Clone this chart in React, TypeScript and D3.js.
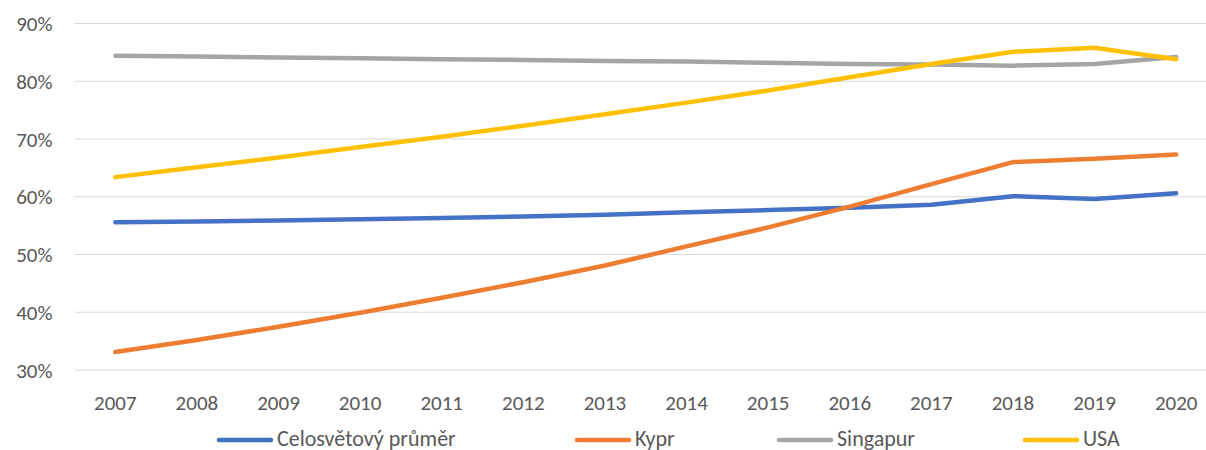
import React from "react";
import * as d3 from "d3";

const years = ["2007","2008","2009","2010","2011","2012","2013","2014","2015","2016","2017","2018","2019","2020"];
const world = [55.6,55.7,55.9,56.1,56.3,56.6,56.9,57.3,57.7,58.1,58.6,60.1,59.6,60.6];
const cyprus = [33.1,35.2,37.5,39.9,42.5,45.2,48.1,51.4,54.7,58.3,62.2,66.0,66.6,67.3];
const singapore = [84.4,84.3,84.1,84.0,83.8,83.7,83.5,83.4,83.2,83.0,82.9,82.7,83.0,84.2];
const usa = [63.4,65.1,66.8,68.6,70.4,72.3,74.3,76.3,78.4,80.7,83.0,85.1,85.8,83.8];
const yTicks = [30,40,50,60,70,80,90];
const seriesNames = ["Celosvětový průměr","Kypr","Singapur","USA"];
const seriesColors = ["#4472C4","#ED7D31","#A5A5A5","#FFC000"];
const seriesData = [world, cyprus, singapore, usa];

export default function App() {
  const W = 1206, H = 450;
  const x = d3.scaleBand<string>().domain(years).range([74.5, 1217]);
  const y = d3.scaleLinear().domain([30, 90]).range([370, 23.5]);
  const line = d3.line<number>()
    .x((_, i) => (x(years[i]) as number) + x.bandwidth() / 2)
    .y((d) => y(d));
  const font = "Calibri, Carlito, Lato, 'Open Sans', sans-serif";
  const legendX = [217, 575, 777, 1023];
  return (
    <svg width={W} height={H} style={{ position: "absolute", left: 0, top: 0 }} fontFamily={font}>
      <rect width={W} height={H} fill="#fff" />
      {yTicks.map((t) => (
        <g key={t}>
          <line x1={75} x2={W} y1={y(t)} y2={y(t)} stroke="#d9d9d9" strokeWidth={1.2} />
          <text x={52.5} y={y(t) + 7.5} textAnchor="end" fontSize={21} fill="#595959">{t}%</text>
        </g>
      ))}
      {years.map((yr) => (
        <text key={yr} x={(x(yr) as number) + x.bandwidth() / 2} y={410} textAnchor="middle" fontSize={21} fill="#595959">{yr}</text>
      ))}
      {seriesData.map((s, i) => (
        <path key={i} d={line(s) as string} fill="none" stroke={seriesColors[i]} strokeWidth={4.5} strokeLinecap="round" strokeLinejoin="round" />
      ))}
      {seriesNames.map((n, i) => (
        <g key={n}>
          <line x1={legendX[i] + 2} x2={legendX[i] + 54} y1={440} y2={440} stroke={seriesColors[i]} strokeWidth={4.5} strokeLinecap="round" />
          <text x={legendX[i] + 60} y={445.5} fontSize={22} fill="#595959">{n}</text>
        </g>
      ))}
    </svg>
  );
}
